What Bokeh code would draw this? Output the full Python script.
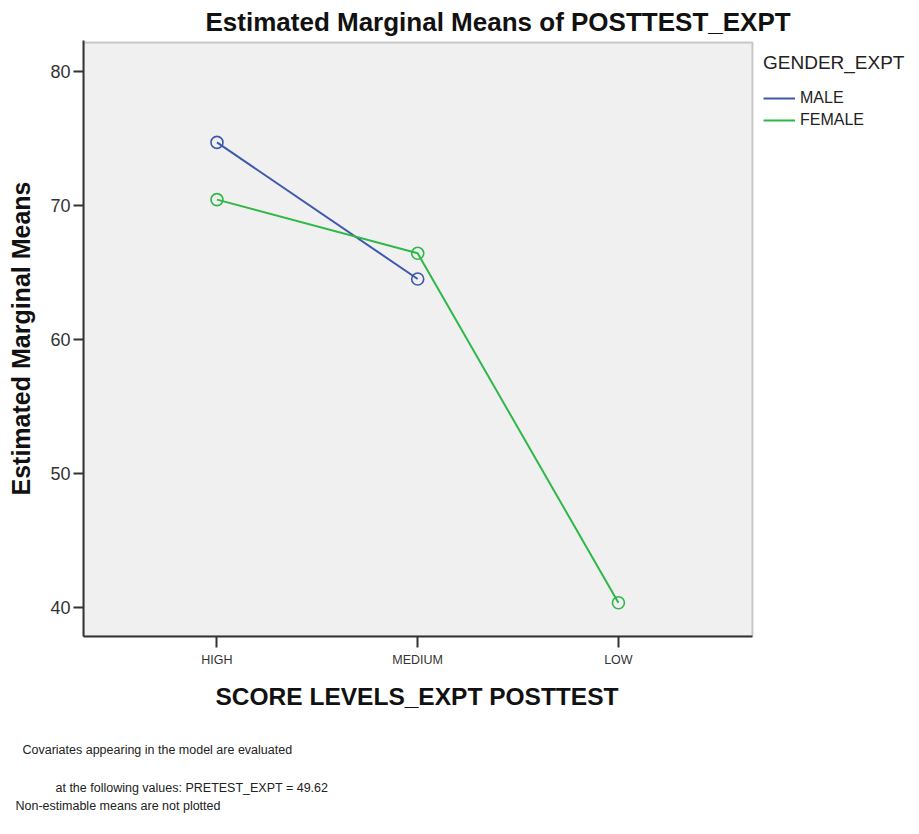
from bokeh.plotting import figure
from bokeh.models import (BoxAnnotation, ColumnDataSource, FixedTicker, Legend, LegendItem,
                          Range1d, Title)
from bokeh.embed import file_html
from bokeh.resources import INLINE

# ---- data ----
categories = ["HIGH", "MEDIUM", "LOW"]
male_levels = ["HIGH", "MEDIUM"]
male_means = [74.7, 64.5]
female_levels = ["HIGH", "MEDIUM", "LOW"]
female_means = [70.43, 66.42, 40.33]
y_ticks = [40, 50, 60, 70, 80]
series_names = ["MALE", "FEMALE"]
legend_title = "GENDER_EXPT"
chart_title = "Estimated Marginal Means of POSTTEST_EXPT"
x_title = "SCORE LEVELS_EXPT POSTTEST"
y_title = "Estimated Marginal Means"
footnotes = [
    "Covariates appearing in the model are evaluated",
    "at the following values: PRETEST_EXPT = 49.62",
    "Non-estimable means are not plotted",
]

BLUE = "#3E58AC"
GREEN = "#2EB848"
SANS = "Liberation Sans"

# ---- layout geometry (pixels) ----
W, H = 911, 818
PL, PR, PT, PB = 83, 752, 42, 636          # grey plotting box
FT = 40                                    # frame top (a little above the box)
X_LO, X_HI = -0.665, 2.668                 # category axis extent of the grey box
Y_LO, Y_HI = 37.81, 82.16                  # value axis extent of the grey box
x_view_hi = X_HI + (X_HI - X_LO) * (W - PR) / (PR - PL)
y_view_hi = Y_HI + (Y_HI - Y_LO) * (PT - FT) / (PB - PT)

male_src = ColumnDataSource(dict(x=[categories.index(c) for c in male_levels], y=male_means))
female_src = ColumnDataSource(dict(x=[categories.index(c) for c in female_levels], y=female_means))

p = figure(width=W, height=H, output_backend="svg", toolbar_location=None,
           x_range=Range1d(X_LO, x_view_hi), y_range=Range1d(Y_LO, y_view_hi),
           min_border_left=PL, min_border_right=0, min_border_top=FT, min_border_bottom=H - PB,
           background_fill_color="white", border_fill_color="white",
           outline_line_color=None)
p.grid.visible = False

p.add_layout(BoxAnnotation(right=X_HI, top=Y_HI, fill_color="#F0F0F0", fill_alpha=1.0,
                           line_color="#5A5A5A", line_width=2, level="underlay"))

ml = p.line("x", "y", source=male_src, line_color=BLUE, line_width=2)
p.scatter("x", "y", source=male_src, marker="circle", size=12, fill_color=None,
          line_color=BLUE, line_width=1.6)
fl = p.line("x", "y", source=female_src, line_color=GREEN, line_width=2)
p.scatter("x", "y", source=female_src, marker="circle", size=12, fill_color=None,
          line_color=GREEN, line_width=1.6)

# title
p.title.text = chart_title
p.title.align = "left"
p.title.offset = 122
p.title.text_font = SANS
p.title.text_font_size = "26px"
p.title.text_font_style = "bold"
p.title.text_color = "#111111"
p.title.standoff = 8

for ax in (p.xaxis[0], p.yaxis[0]):
    ax.axis_line_color = "#333333"
    ax.axis_line_width = 2
    ax.major_tick_line_color = "#333333"
    ax.major_tick_line_width = 2
    ax.major_tick_in = 0
    ax.minor_tick_line_color = None
    ax.major_label_text_color = "#333333"

p.xaxis.bounds = (X_LO, X_HI)
p.xaxis.ticker = FixedTicker(ticks=list(range(len(categories))))
p.xaxis.major_label_overrides = {i: c for i, c in enumerate(categories)}
p.xaxis.major_tick_out = 11
p.xaxis.major_label_standoff = 5
p.xaxis.major_label_text_font = SANS
p.xaxis.major_label_text_font_size = "12.5px"

p.yaxis.ticker = FixedTicker(ticks=y_ticks)
p.yaxis.major_tick_out = 10
p.yaxis.major_label_standoff = 3
p.yaxis.major_label_text_font = SANS
p.yaxis.major_label_text_font_size = "18px"
p.yaxis.axis_label = y_title
p.yaxis.axis_label_text_font = SANS
p.yaxis.axis_label_text_font_style = "bold"
p.yaxis.axis_label_text_color = "#111111"
p.yaxis.axis_label_text_font_size = "25px"
p.yaxis.axis_label_standoff = 12

legend = Legend(items=[LegendItem(label=series_names[0], renderers=[ml]),
                       LegendItem(label=series_names[1], renderers=[fl])],
                location=(763 - PL, 506), title=legend_title,
                title_text_font=SANS, title_text_font_size="19px", title_text_font_style="normal",
                title_text_color="#222222", title_standoff=14,
                label_text_font=SANS, label_text_font_size="16px", label_text_color="#222222",
                glyph_width=32, glyph_height=20, label_height=20, label_standoff=5, spacing=2,
                padding=0, margin=0, border_line_color=None, background_fill_alpha=0)
p.add_layout(legend)

# x-axis title and footnotes stacked below the axis
below_texts = [(x_title, 215 - PL, 22, "24.5px", "bold", "#111111")]
for text, x0, so in zip(footnotes, [22, 55, 15], [41, 3, 0]):
    below_texts.append((text, x0 - PL, so, "12.5px", "normal", "#222222"))
for text, off, so, size, style, color in below_texts:
    p.add_layout(Title(text=text, align="left", offset=off, standoff=so,
                       text_font=SANS, text_font_size=size, text_font_style=style,
                       text_color=color), "below")

open("out.html", "w").write(file_html(p, INLINE))
